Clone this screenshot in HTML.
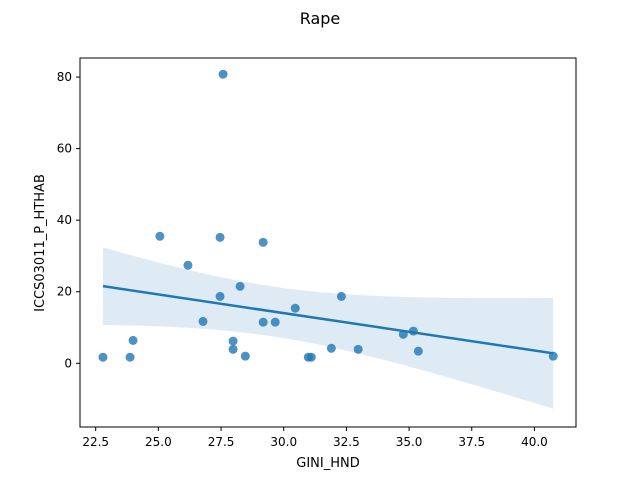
<!DOCTYPE html>
<html><head><meta charset="utf-8"><style>
body{margin:0;background:#fff;font-family:"Liberation Sans","DejaVu Sans",sans-serif}
svg text{font-family:"DejaVu Sans","Liberation Sans",sans-serif}
</style></head><body>
<svg id="chart" width="640" height="480">
<text x="320" y="24" text-anchor="middle" font-size="16">Rape</text>
<g id="plot"></g>
<rect x="80" y="58" width="496" height="369" fill="none" stroke="#000" stroke-width="1"/>
<text x="328" y="467" text-anchor="middle" font-size="13">GINI_HND</text>
<text transform="translate(44,243) rotate(-90)" text-anchor="middle" font-size="13">ICCS03011_P_HTHAB</text>
</svg>
<script>
const xVals=[22.79,23.87,23.99,25.06,26.18,26.78,27.46,27.46,27.58,27.98,27.98,28.26,28.47,29.18,29.18,29.66,30.46,30.98,31.1,31.9,32.3,32.97,34.77,35.17,35.37,40.75];
const yVals=[1.7,1.7,6.4,35.5,27.4,11.7,35.2,18.7,80.8,6.2,3.9,21.5,2.0,33.8,11.5,11.5,15.4,1.7,1.7,4.2,18.7,3.9,8.1,9.0,3.4,2.0];
const xTicks=[22.5,25.0,27.5,30.0,32.5,35.0,37.5,40.0];
const yTicks=[0,20,40,60,80];
const X=v=>95.7+(v-22.5)*25.07;
const Y=v=>363.3-v*3.578;
const ns="http://www.w3.org/2000/svg";
const g=document.getElementById('plot');
function mk(t,a){const e=document.createElementNS(ns,t);for(const k in a)e.setAttribute(k,a[k]);g.appendChild(e);return e;}
xTicks.forEach(t=>{
 const l=mk('line',{x1:X(t),x2:X(t),y1:427,y2:431,stroke:'#000'});
 
 
 const s=mk('text',{x:X(t),y:446,'text-anchor':'middle','font-size':12});
 s.textContent=t.toFixed(1);
 
 
});
yTicks.forEach(t=>{
 const l=mk('line',{x1:76,x2:80,y1:Y(t),y2:Y(t),stroke:'#000'});
 
 
 const s=mk('text',{x:72,y:Y(t)+4,'text-anchor':'end','font-size':12});
 s.textContent=t;
 
 
});
const n=xVals.length;
const mx=xVals.reduce((a,b)=>a+b)/n, my=yVals.reduce((a,b)=>a+b)/n;
let sxx=0,sxy=0;for(let i=0;i<n;i++){sxx+=(xVals[i]-mx)**2;sxy+=(xVals[i]-mx)*(yVals[i]-my);}
const b=sxy/sxx,a=my-b*mx;
let sse=0;for(let i=0;i<n;i++)sse+=(yVals[i]-a-b*xVals[i])**2;
const s=Math.sqrt(sse/(n-2)),tq=2.07;
const x0=Math.min(...xVals),x1=Math.max(...xVals);
let up=[],lo=[];
for(let k=0;k<=60;k++){const x=x0+(x1-x0)*k/60;const yh=a+b*x;const se=s*Math.sqrt(1/n+0.5*(x-mx)**2/sxx);
 up.push(X(x)+','+Y(yh+tq*se));lo.unshift(X(x)+','+Y(yh-tq*se));}
const band=mk('polygon',{points:up.concat(lo).join(' '),fill:'#1f77b4','fill-opacity':0.15});


xVals.forEach((x,i)=>{
 const c=mk('circle',{cx:X(x),cy:Y(yVals[i]),r:4.5,fill:'#1f77b4','fill-opacity':0.8});
 
 
});
const rl=mk('line',{x1:X(x0),y1:Y(a+b*x0),x2:X(x1),y2:Y(a+b*x1),stroke:'#1f77b4','stroke-width':2.5});


</script>
</body></html>
